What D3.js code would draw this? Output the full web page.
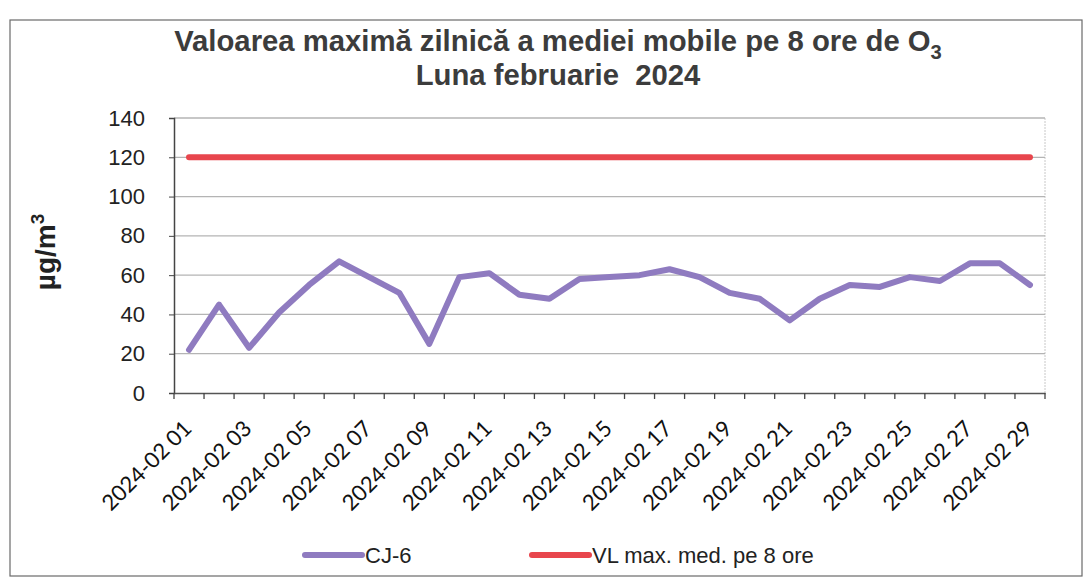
<!DOCTYPE html>
<html><head><meta charset="utf-8">
<script src="https://cdn.jsdelivr.net/npm/d3@7"></script>
<style>body{margin:0;background:#fff}svg{display:block}</style>
</head><body>
<svg id="c" width="1088" height="580"></svg>
<script>
const days = d3.range(1, 30).map(d => "2024-02 " + String(d).padStart(2, "0"));
const cj6 = [22,45,23,41,55,67,59,51,25,59,61,50,48,58,59,60,63,59,51,48,37,48,55,54,59,57,66,66,55];
const vl = days.map(() => 120);
const yTicks = [0,20,40,60,80,100,120,140];
const seriesNames = ["CJ-6", "VL max. med. pe 8 ore"];
const colors = ["#8f7bc0", "#e8464d"];

const svg = d3.select("#c");
const m = {left:174, right:1045, top:118, bottom:393};
const x = d3.scaleBand().domain(days).range([m.left, m.right]);
const y = d3.scaleLinear().domain([0,140]).range([m.bottom, m.top]);

// outer frame
svg.append("rect").attr("x",10).attr("y",20).attr("width",1072).attr("height",556)
  .attr("fill","#fff").attr("stroke","#6a6a6a").attr("stroke-width",1.2);

// title
const tg = svg.append("g").attr("transform","translate(558,0) scale(1.01,1)");
const t = tg.append("text").attr("text-anchor","middle").attr("font-family","Liberation Sans, Arial")
  .attr("font-weight","bold").attr("font-size",29).attr("fill","#3c3c3c");
t.append("tspan").attr("x",0).attr("y",51).text("Valoarea maximă zilnică a mediei mobile pe 8 ore de O");
t.append("tspan").attr("dy",8).attr("font-size",20).text("3");
tg.append("text").attr("x",0).attr("y",85).attr("text-anchor","middle").style("white-space","pre")
  .attr("font-family","Liberation Sans, Arial").attr("font-weight","bold").attr("font-size",29)
  .attr("fill","#3c3c3c").text("Luna februarie  2024");

// plot border (right) & gridlines
svg.append("line").attr("x1",m.right).attr("x2",m.right).attr("y1",m.top).attr("y2",m.bottom)
  .attr("stroke","#c8c8c8").attr("stroke-dasharray","2,1");
svg.append("g").selectAll("line").data(yTicks.filter(d=>d>0)).join("line")
  .attr("x1",m.left).attr("x2",m.right).attr("y1",d=>y(d)).attr("y2",d=>y(d))
  .attr("stroke","#b4b4b4").attr("stroke-width",1.3);

// y axis
const ya = svg.append("g").attr("transform",`translate(${m.left},0)`)
  .call(d3.axisLeft(y).tickValues(yTicks).tickSize(5).tickPadding(24));
ya.select(".domain").attr("stroke","#444").attr("stroke-width",1.5);
ya.selectAll(".tick line").attr("stroke","#444");
ya.selectAll("text").attr("font-family","Liberation Sans, Arial").attr("font-size",22).attr("fill","#222");

// x axis
const xa = svg.append("g").attr("transform",`translate(0,${m.bottom})`)
  .call(d3.axisBottom(x).tickSize(0).tickFormat(""));
xa.select(".domain").attr("stroke","#555").attr("stroke-width",1.5);
svg.append("g").selectAll("line").data(d3.range(days.length+1)).join("line")
  .attr("x1",i=>m.left + i*x.step()).attr("x2",i=>m.left + i*x.step())
  .attr("y1",m.bottom).attr("y2",m.bottom+6).attr("stroke","#444").attr("stroke-width",1.3);
svg.append("g").selectAll("text").data(days.filter((d,i)=>i%2===0)).join("text")
  .attr("transform",d=>`translate(${x(d)+x.bandwidth()/2+4},${m.bottom+37}) rotate(-45)`)
  .attr("text-anchor","end").attr("font-family","Lato, Carlito, sans-serif").attr("font-size",22)
  .attr("fill","#111").text(d=>d);

// y title
const yt = svg.append("text").attr("transform","translate(55,252) rotate(-90)").attr("text-anchor","middle")
  .attr("font-family","Liberation Sans, Arial").attr("font-weight","bold").attr("font-size",28).attr("fill","#222");
yt.append("tspan").text("µg/m");
yt.append("tspan").attr("dy",-11).attr("font-size",19).text("3");

// lines
const line = d3.line().x((d,i)=>x(days[i])+x.bandwidth()/2).y(d=>y(d));
svg.append("path").datum(vl).attr("d",line).attr("fill","none").attr("stroke",colors[1])
  .attr("stroke-width",6).attr("stroke-linecap","round");
svg.append("path").datum(cj6).attr("d",line).attr("fill","none").attr("stroke",colors[0])
  .attr("stroke-width",6).attr("stroke-linejoin","round").attr("stroke-linecap","round");

// legend
const lg = [{x:305},{x:532}];
seriesNames.forEach((n,i)=>{
  svg.append("line").attr("x1",lg[i].x).attr("x2",lg[i].x+57).attr("y1",555).attr("y2",555)
    .attr("stroke",colors[i]).attr("stroke-width",6).attr("stroke-linecap","round");
  svg.append("text").attr("x",lg[i].x+60).attr("y",563).attr("font-family","Liberation Sans, Arial")
    .attr("font-size",22).attr("fill","#222").text(n);
});
</script>
</body></html>
